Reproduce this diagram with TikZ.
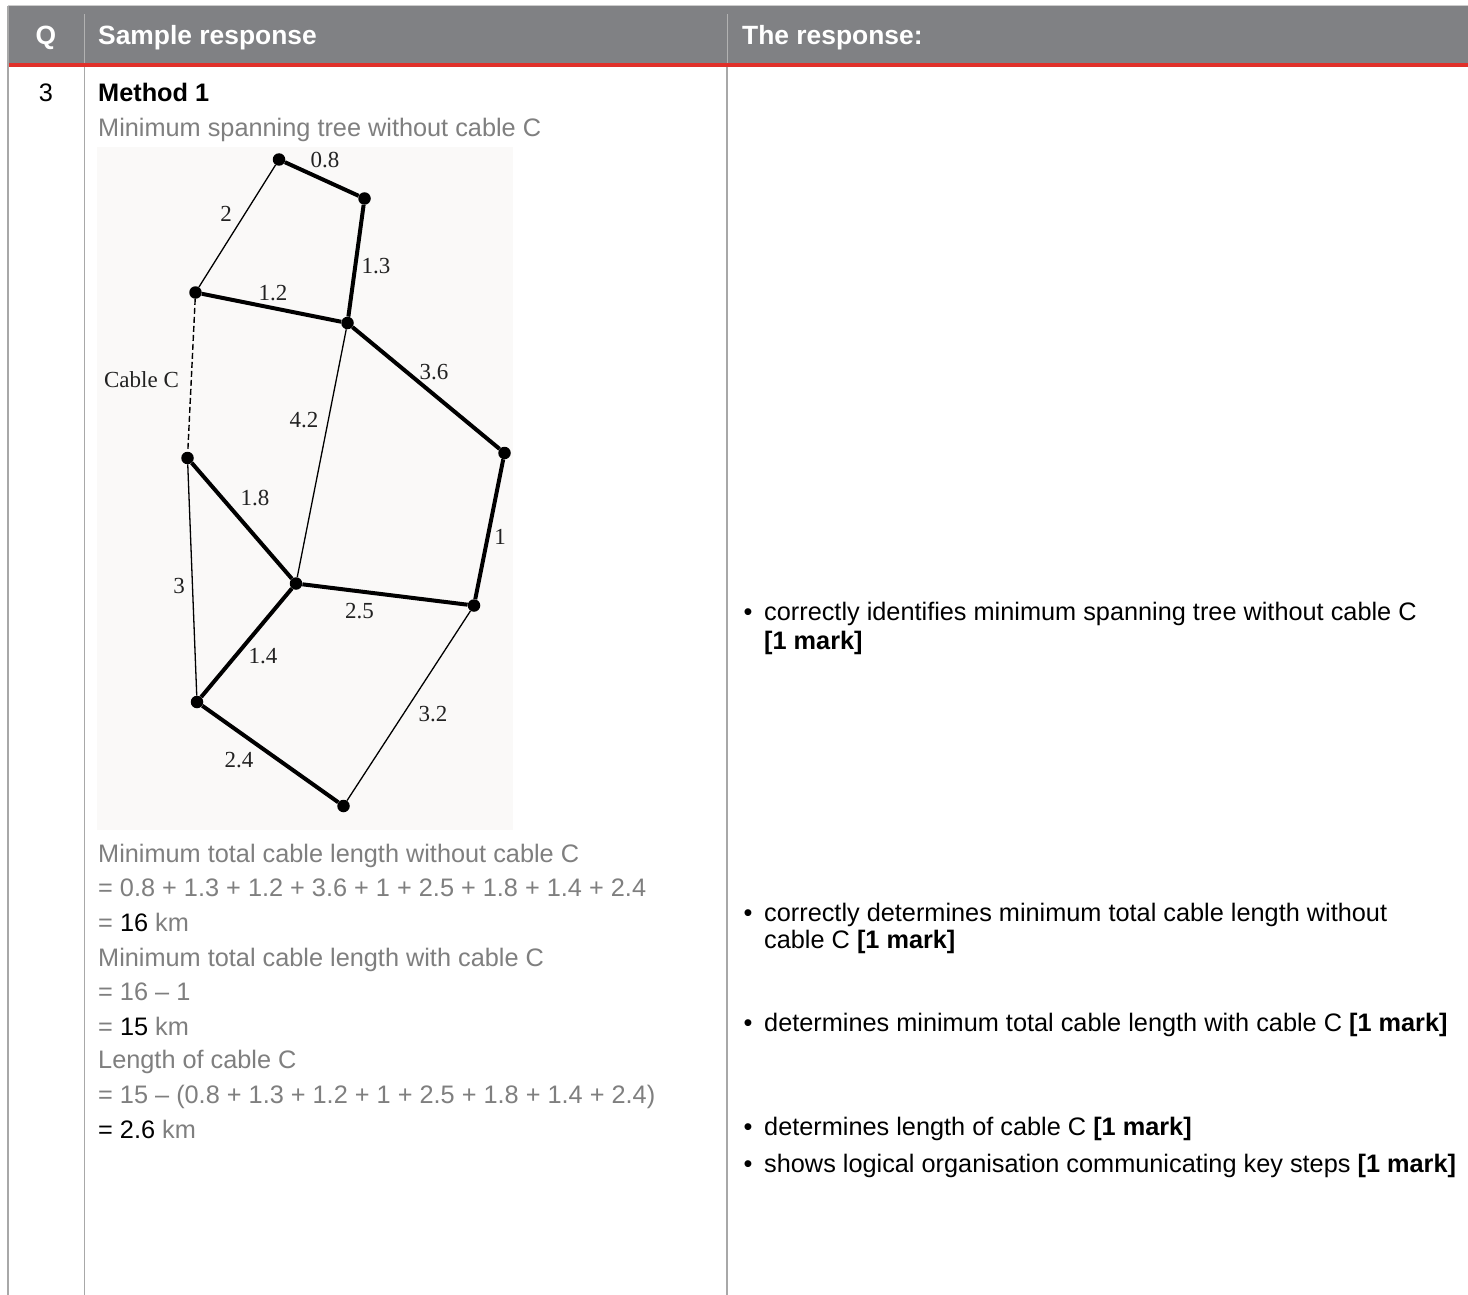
\documentclass[tikz,border=0pt]{standalone}
\usepackage{fontspec}
\setmainfont{Liberation Sans}
\newfontfamily\timesf{Liberation Serif}
\definecolor{hdrgrey}{HTML}{808184}
\definecolor{hdrred}{HTML}{E0302A}
\definecolor{txtgrey}{HTML}{7F7F7F}
\definecolor{rulegrey}{HTML}{A8A8A8}
\definecolor{graphbg}{HTML}{FAF9F8}
\definecolor{lblcol}{HTML}{222222}
\tikzset{
  hdr/.style={anchor=base west,inner sep=0,text=white,font=\fontsize{26.4}{30}\selectfont\bfseries},
  body/.style={anchor=base west,inner sep=0,text=txtgrey,font=\fontsize{25.3}{30}\selectfont},
  rbody/.style={anchor=base west,inner sep=0,text=black,font=\fontsize{25.3}{30}\selectfont},
  vtx/.style={circle,fill=black,inner sep=0,minimum size=12.5},
  thickedge/.style={line width=4},
  thinedge/.style={line width=1.3},
  cableedge/.style={line width=1.4,dash pattern=on 6 off 3},
  lbl/.style={inner sep=0,text=lblcol,font=\timesf\fontsize{23}{25}\selectfont},
  tabrule/.style={draw=rulegrey,line width=1.5},
}
\begin{document}
\begin{tikzpicture}[x=1pt,y=-1pt]
\useasboundingbox (0,0) rectangle (1468,1295);
% header
\fill[white] (0,0) rectangle (1468,1295);
\draw[draw=black!20,line width=1] (8,5.5) -- (1468,5.5);
\fill[hdrgrey] (8,6) rectangle (1468,63);
\fill[hdrred] (8,63) rectangle (1468,67);
\draw[draw=black!30,line width=1] (84,14) -- (84,63);
\draw[draw=black!30,line width=1] (727,14) -- (727,63);
% table rules
\draw[tabrule,line width=2] (8,6) -- (8,1295);
\draw[tabrule,line width=1] (84,67) -- (84,1295);
\draw[tabrule,line width=1.8] (727,67) -- (727,1295);
% header text
\node[hdr,anchor=base] (hq) at (46,45) {Q};
\node[hdr] (hs) at (98,45) {Sample response};
\node[hdr] (hr) at (742,45) {The response:};
% question number and method
\node[rbody,anchor=base] (qn) at (46,102) {3};
\node[rbody,font=\fontsize{25.3}{30}\selectfont\bfseries] (m1) at (98,102) {Method 1};
\node[body] (t0) at (98,137) {Minimum spanning tree without cable C};
% graph background
\fill[graphbg] (97,147) rectangle (513,830);
% vertices
\node[vtx] (A) at (279,159.5) {};
\node[vtx] (B) at (364.5,198.5) {};
\node[vtx] (C) at (195.5,292.5) {};
\node[vtx] (D) at (347.5,323) {};
\node[vtx] (E) at (504.5,453) {};
\node[vtx] (F) at (187.5,458) {};
\node[vtx] (G) at (296,583.5) {};
\node[vtx] (H) at (474,605.5) {};
\node[vtx] (I) at (197,702) {};
\node[vtx] (J) at (343.5,806) {};
% edges
\draw[thickedge] (A) -- (B);
\draw[thinedge] (A) -- (C);
\draw[thickedge] (B) -- (D);
\draw[thickedge] (C) -- (D);
\draw[cableedge] (C) -- (F);
\draw[thickedge] (D) -- (E);
\draw[thinedge] (D) -- (G);
\draw[thickedge] (E) -- (H);
\draw[thickedge] (F) -- (G);
\draw[thinedge] (F) -- (I);
\draw[thickedge] (G) -- (H);
\draw[thickedge] (G) -- (I);
\draw[thickedge] (I) -- (J);
\draw[thinedge] (H) -- (J);
% edge labels
\node[lbl] (lAB) at (325,160) {0.8};
\node[lbl] (lAC) at (226,214) {2};
\node[lbl] (lBD) at (376,266) {1.3};
\node[lbl] (lCD) at (273,293) {1.2};
\node[lbl] (lCF) at (141.5,379.5) {Cable C};
\node[lbl] (lDE) at (434,372) {3.6};
\node[lbl] (lDG) at (304,420) {4.2};
\node[lbl] (lFG) at (255,498) {1.8};
\node[lbl] (lEH) at (500,536.5) {1};
\node[lbl] (lFI) at (179,585.5) {3};
\node[lbl] (lGH) at (359.5,611) {2.5};
\node[lbl] (lGI) at (263,656) {1.4};
\node[lbl] (lHJ) at (433,714) {3.2};
\node[lbl] (lIJ) at (239,760.5) {2.4};
% working
\node[body] (w1) at (98,862) {Minimum total cable length without cable C};
\node[body] (w2) at (98,896) {= 0.8 + 1.3 + 1.2 + 3.6 + 1 + 2.5 + 1.8 + 1.4 + 2.4};
\node[body] (w3) at (98,931) {= \textcolor{black}{16} km};
\node[body] (w4) at (98,966) {Minimum total cable length with cable C};
\node[body] (w5) at (98,1000) {= 16 – 1};
\node[body] (w6) at (98,1035) {= \textcolor{black}{15} km};
\node[body] (w7) at (98,1068) {Length of cable C};
\node[body] (w8) at (98,1103) {= 15 – (0.8 + 1.3 + 1.2 + 1 + 2.5 + 1.8 + 1.4 + 2.4)};
\node[body] (w9) at (98,1138) {\textcolor{black}{= 2.6} km};
% marking points
\node[rbody,anchor=base] (b1) at (748,620) {\textbullet};
\node[rbody] (r1) at (764,620) {correctly identifies minimum spanning tree without cable C};
\node[rbody] (r1b) at (764,649) {\textbf{[1 mark]}};
\node[rbody,anchor=base] (b2) at (748,921) {\textbullet};
\node[rbody] (r2) at (764,921) {correctly determines minimum total cable length without};
\node[rbody] (r2b) at (764,948) {cable C \textbf{[1 mark]}};
\node[rbody,anchor=base] (b3) at (748,1031) {\textbullet};
\node[rbody] (r3) at (764,1031) {determines minimum total cable length with cable C \textbf{[1 mark]}};
\node[rbody,anchor=base] (b4) at (748,1135) {\textbullet};
\node[rbody] (r4) at (764,1135) {determines length of cable C \textbf{[1 mark]}};
\node[rbody,anchor=base] (b5) at (748,1172) {\textbullet};
\node[rbody] (r5) at (764,1172) {shows logical organisation communicating key steps \textbf{[1 mark]}};
\end{tikzpicture}
\end{document}
